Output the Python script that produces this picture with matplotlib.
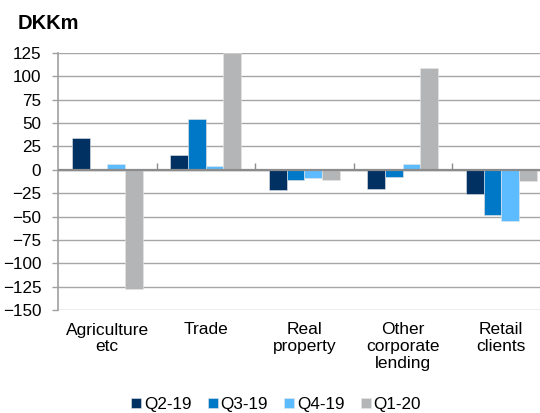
import numpy as np
import matplotlib.pyplot as plt

plt.rcParams['font.family'] = ['Liberation Sans', 'DejaVu Sans']

categories = ["Agriculture\netc", "Trade", "Real\nproperty", "Other\ncorporate\nlending", "Retail\nclients"]
series = ["Q2-19", "Q3-19", "Q4-19", "Q1-20"]
q2_19 = [34, 16, -22, -20, -26]
q3_19 = [0, 54, -11, -8, -48]
q4_19 = [6, 4, -9, 6, -55]
q1_20 = [-127, 125, -11, 109, -12]
yticks = list(range(-150, 126, 25))

colors = ["#003162", "#0078C8", "#5CBCFF", "#B4B5B7"]
values = [q2_19, q3_19, q4_19, q1_20]

fig = plt.figure(figsize=(5.4, 4.13), dpi=100)
ax = fig.add_axes([58 / 540, 1 - 310 / 413, (550.5 - 58) / 540, (310 - 53) / 413])

x = np.arange(len(categories))
w = 0.18
for i, (name, vals) in enumerate(zip(series, values)):
    ax.bar(x + (i - 1.5) * w, vals, w, color=colors[i], label=name,
           edgecolor="#e6e6e6", linewidth=0.4, zorder=3)

ax.set_xlim(-0.5, len(categories) - 0.5)
ax.set_ylim(-150, 125)
ax.set_yticks(yticks)
ax.yaxis.grid(True, color="#a6a6a6", linewidth=1.0, zorder=0)
ax.tick_params(axis="y", length=4, width=1, color="#a0a0a0", labelsize=12.3, pad=8)
ax.axhline(0, color="#8c8c8c", linewidth=1.6, zorder=4)

for s in ["top", "right", "bottom"]:
    ax.spines[s].set_visible(False)
ax.spines["left"].set_color("#a0a0a0")
ax.spines["left"].set_linewidth(1.2)

ax.set_xticks(x)
ax.set_xticklabels(categories, fontsize=12.5, linespacing=1.15)
ax.tick_params(axis="x", length=0, pad=9)

# boundary ticks on the zero line
sec = ax.secondary_xaxis(150 / 275)
sec.set_xticks(x[:-1] + 0.5)
sec.set_xticklabels([])
sec.tick_params(axis="x", length=5, width=1, color="#8c8c8c", direction="out")
sec.spines["bottom"].set_visible(False)

fig.text(18 / 540, 1 - 29 / 413, "DKKm", fontsize=14.5, fontweight="bold", va="baseline")

fig.legend(loc="lower center", bbox_to_anchor=(0.511, -0.035), ncol=4, frameon=False,
           fontsize=12.3, handlelength=0.6, handleheight=0.6, handletextpad=0.15,
           columnspacing=0.95)

fig.savefig("out.png", dpi=100)
